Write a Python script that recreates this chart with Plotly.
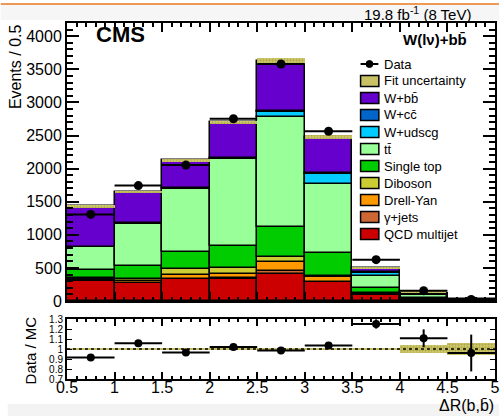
import plotly.graph_objects as go

# ---------------- data ----------------
bin_centers = [0.75, 1.25, 1.75, 2.25, 2.75, 3.25, 3.75, 4.25, 4.75]
bin_halfwidth = [0.25] * 9

qcd        = [304, 269, 330, 340, 415, 282, 90, 15, 3]
gjets      = [20, 10, 10, 10, 35, 10, 5, 2, 0.5]
drell_yan  = [15, 30, 60, 60, 140, 70, 10, 5, 1]
diboson    = [10, 25, 76, 85, 76, 15, 10, 3, 1]
single_top = [125, 200, 270, 340, 455, 350, 80, 15, 3]
ttbar      = [336, 631, 944, 1305, 1652, 1048, 190, 45, 6]
w_udscg    = [5, 5, 5, 10, 75, 150, 35, 20, 4]
w_cc       = [5, 5, 10, 15, 30, 15, 15, 10, 2]
w_bb       = [610, 473, 420, 535, 752, 540, 65, 25, 4.5]

data       = [1308, 1744, 2053, 2754, 3580, 2565, 625, 155, 24]
data_err   = [36, 42, 45, 52, 60, 51, 23, 12.5, 4.6]
fit_unc    = [15, 15, 20, 25, 45, 30, 5, 5, 1.6]

components = [
    ("QCD multijet", qcd, "#cc0000"),
    ("γ+jets", gjets, "#cc6633"),
    ("Drell-Yan", drell_yan, "#ff9900"),
    ("Diboson", diboson, "#cccc33"),
    ("Single top", single_top, "#00cc00"),
    ("tt̄", ttbar, "#99ff99"),
    ("W+udscg", w_udscg, "#00ccff"),
    ("W+cc̄", w_cc, "#0066cc"),
    ("W+bb̄", w_bb, "#6600cc"),
]

total = [sum(c[1][i] for c in components) for i in range(9)]
ratio = [d / t for d, t in zip(data, total)]
ratio_err = [e / t for e, t in zip(data_err, total)]
ratio_unc = [u / t for u, t in zip(fit_unc, total)]

FONT = "Liberation Sans, Arial, Helvetica, sans-serif"
W, H = 504, 416
ML, MR, MT, MB = 67, 4, 23, 37
PW, PH = W - ML - MR, H - MT - MB


def px(x):
    return (x - ML) / PW


def py(y):
    return (H - MB - y) / PH


fig = go.Figure()

# stacked MC (bases accumulated explicitly)
cum = [0.0] * 9
for name, vals, col in components:
    fig.add_trace(go.Bar(
        x=bin_centers, y=vals, base=list(cum), width=0.5, name=name,
        marker=dict(color=col, line=dict(color="black", width=1.5)),
        xaxis="x", yaxis="y", showlegend=False,
    ))
    cum = [c + v for c, v in zip(cum, vals)]

# fit uncertainty band (main)
fig.add_trace(go.Bar(
    x=bin_centers, y=[2 * u for u in fit_unc],
    base=[t - u for t, u in zip(total, fit_unc)], width=0.5,
    marker=dict(color="#d2cc6a", line=dict(width=0),
                pattern=dict(shape=".", fgcolor="#8c8530", size=3, solidity=0.45)),
    xaxis="x", yaxis="y", showlegend=False,
))

# data (main)
fig.add_trace(go.Scatter(
    x=bin_centers, y=data, mode="markers",
    marker=dict(color="black", size=9),
    error_x=dict(type="data", array=bin_halfwidth, color="black", thickness=2, width=0),
    error_y=dict(type="data", array=data_err, color="black", thickness=2, width=0),
    xaxis="x", yaxis="y", showlegend=False,
))

# ratio uncertainty band
fig.add_trace(go.Bar(
    x=bin_centers, y=[2 * r for r in ratio_unc],
    base=[1 - r for r in ratio_unc], width=0.5,
    marker=dict(color="#d2cc6a", line=dict(width=0),
                pattern=dict(shape=".", fgcolor="#8c8530", size=3, solidity=0.45)),
    xaxis="x2", yaxis="y2", showlegend=False,
))

# ratio data
fig.add_trace(go.Scatter(
    x=bin_centers, y=ratio, mode="markers",
    marker=dict(color="black", size=8),
    error_x=dict(type="data", array=bin_halfwidth, color="black", thickness=2, width=0),
    error_y=dict(type="data", array=ratio_err, color="black", thickness=2, width=0),
    xaxis="x2", yaxis="y2", showlegend=False,
))

shapes = []
annotations = []

# line at 1 in the ratio
shapes.append(dict(type="line", xref="x2", yref="y2", x0=0.5, x1=5, y0=1, y1=1,
                   line=dict(color="black", width=1.5, dash="dot")))

# page artefacts (screenshot frame)
shapes.append(dict(type="rect", xref="paper", yref="paper", layer="below",
                   x0=px(0), x1=px(504), y0=py(20), y1=py(5),
                   fillcolor="#f6f6f6", line=dict(width=0)))
shapes.append(dict(type="line", xref="paper", yref="paper",
                   x0=px(0), x1=px(504), y0=py(4), y1=py(4),
                   line=dict(color="#ee9955", width=2)))
shapes.append(dict(type="rect", xref="paper", yref="paper", layer="below",
                   x0=px(7), x1=px(504), y0=py(416), y1=py(404),
                   fillcolor="#f3f3f3", line=dict(width=0)))

# manual legend
legend_items = [("Data", None), ("Fit uncertainty", "#c8c264")] + \
    [(n, c) for n, v, c in reversed(components)]
y0 = 64
for i, (name, col) in enumerate(legend_items):
    yc = y0 + i * 17
    if col is None:
        shapes.append(dict(type="line", xref="paper", yref="paper",
                           x0=px(364), x1=px(382), y0=py(yc), y1=py(yc),
                           line=dict(color="black", width=2)))
        shapes.append(dict(type="circle", xref="paper", yref="paper",
                           x0=px(369.5), x1=px(376.5), y0=py(yc + 3.5), y1=py(yc - 3.5),
                           fillcolor="black", line=dict(color="black", width=1)))
    else:
        shapes.append(dict(type="rect", xref="paper", yref="paper",
                           x0=px(364), x1=px(382.5), y0=py(yc + 5.5), y1=py(yc - 5.5),
                           fillcolor=col, line=dict(color="black", width=1.5)))
    annotations.append(dict(text=name, xref="paper", yref="paper",
                            x=px(386), y=py(yc), xanchor="left", yanchor="middle",
                            showarrow=False, font=dict(family=FONT, size=13, color="black")))

# texts
annotations += [
    dict(text="<b>CMS</b>", xref="paper", yref="paper", x=px(94), y=py(34),
         xanchor="left", yanchor="middle", showarrow=False,
         font=dict(family=FONT, size=22, color="black")),
    dict(text="19.8 fb<sup>-1</sup> (8 TeV)", xref="paper", yref="paper",
         x=px(478), y=py(13), xanchor="right", yanchor="middle", showarrow=False,
         font=dict(family=FONT, size=15, color="black")),
    dict(text="<b>W(lν)+bb̄</b>", xref="paper", yref="paper",
         x=px(474), y=py(40), xanchor="right", yanchor="middle", showarrow=False,
         font=dict(family=FONT, size=15, color="black")),
    dict(text="Events / 0.5", xref="paper", yref="paper", x=px(15), y=py(22),
         xanchor="center", yanchor="top", textangle=-90, showarrow=False,
         font=dict(family=FONT, size=16, color="black")),
    dict(text="Data / MC", xref="paper", yref="paper", x=px(30), y=py(350),
         xanchor="center", yanchor="middle", textangle=-90, showarrow=False,
         font=dict(family=FONT, size=15, color="black")),
    dict(text="ΔR(b,b̄)", xref="paper", yref="paper", x=px(501), y=py(406),
         xanchor="right", yanchor="middle", showarrow=False,
         font=dict(family=FONT, size=16, color="black")),
]

main_bot = 301
ratio_top = 319
dom_main = [(H - MB - main_bot) / PH, 1.0]
dom_ratio = [0.0, (H - MB - ratio_top) / PH]

axis_common = dict(showline=True, linecolor="black", linewidth=2, mirror="allticks",
                   ticks="inside", tickcolor="black", showgrid=False, zeroline=False)

fig.update_layout(
    width=W, height=H,
    margin=dict(l=ML, r=MR, t=MT, b=MB),
    paper_bgcolor="white", plot_bgcolor="white",
    barmode="overlay",
    bargap=0,
    showlegend=False,
    font=dict(family=FONT, color="black"),
    xaxis=dict(domain=[0, 1], anchor="y", range=[0.5, 5], dtick=0.5, tick0=0.5,
               showticklabels=False, ticklen=9, tickwidth=1.5, matches="x2",
               minor=dict(dtick=0.1, ticklen=4, ticks="inside", tickcolor="black", tickwidth=1.5),
               **axis_common),
    yaxis=dict(domain=dom_main, anchor="x", range=[0, 4200], dtick=500, tick0=0,
               ticklen=12, tickwidth=1.5, tickfont=dict(size=16, family=FONT),
               minor=dict(dtick=100, ticklen=6, ticks="inside", tickcolor="black", tickwidth=1.5),
               **axis_common),
    xaxis2=dict(domain=[0, 1], anchor="y2", range=[0.5, 5], dtick=0.5, tick0=0.5,
                ticklen=7, tickwidth=1.5, tickfont=dict(size=16, family=FONT),
                ticklabelstandoff=-7,
                minor=dict(dtick=0.1, ticklen=3, ticks="inside", tickcolor="black", tickwidth=1.5),
                **axis_common),
    yaxis2=dict(domain=dom_ratio, anchor="x2", range=[0.7, 1.3], dtick=0.1, tick0=0.7,
                ticklen=5, tickwidth=1, tickfont=dict(size=10, family=FONT),
                **axis_common),
    shapes=shapes,
    annotations=annotations,
)

fig.write_html("out.html")
